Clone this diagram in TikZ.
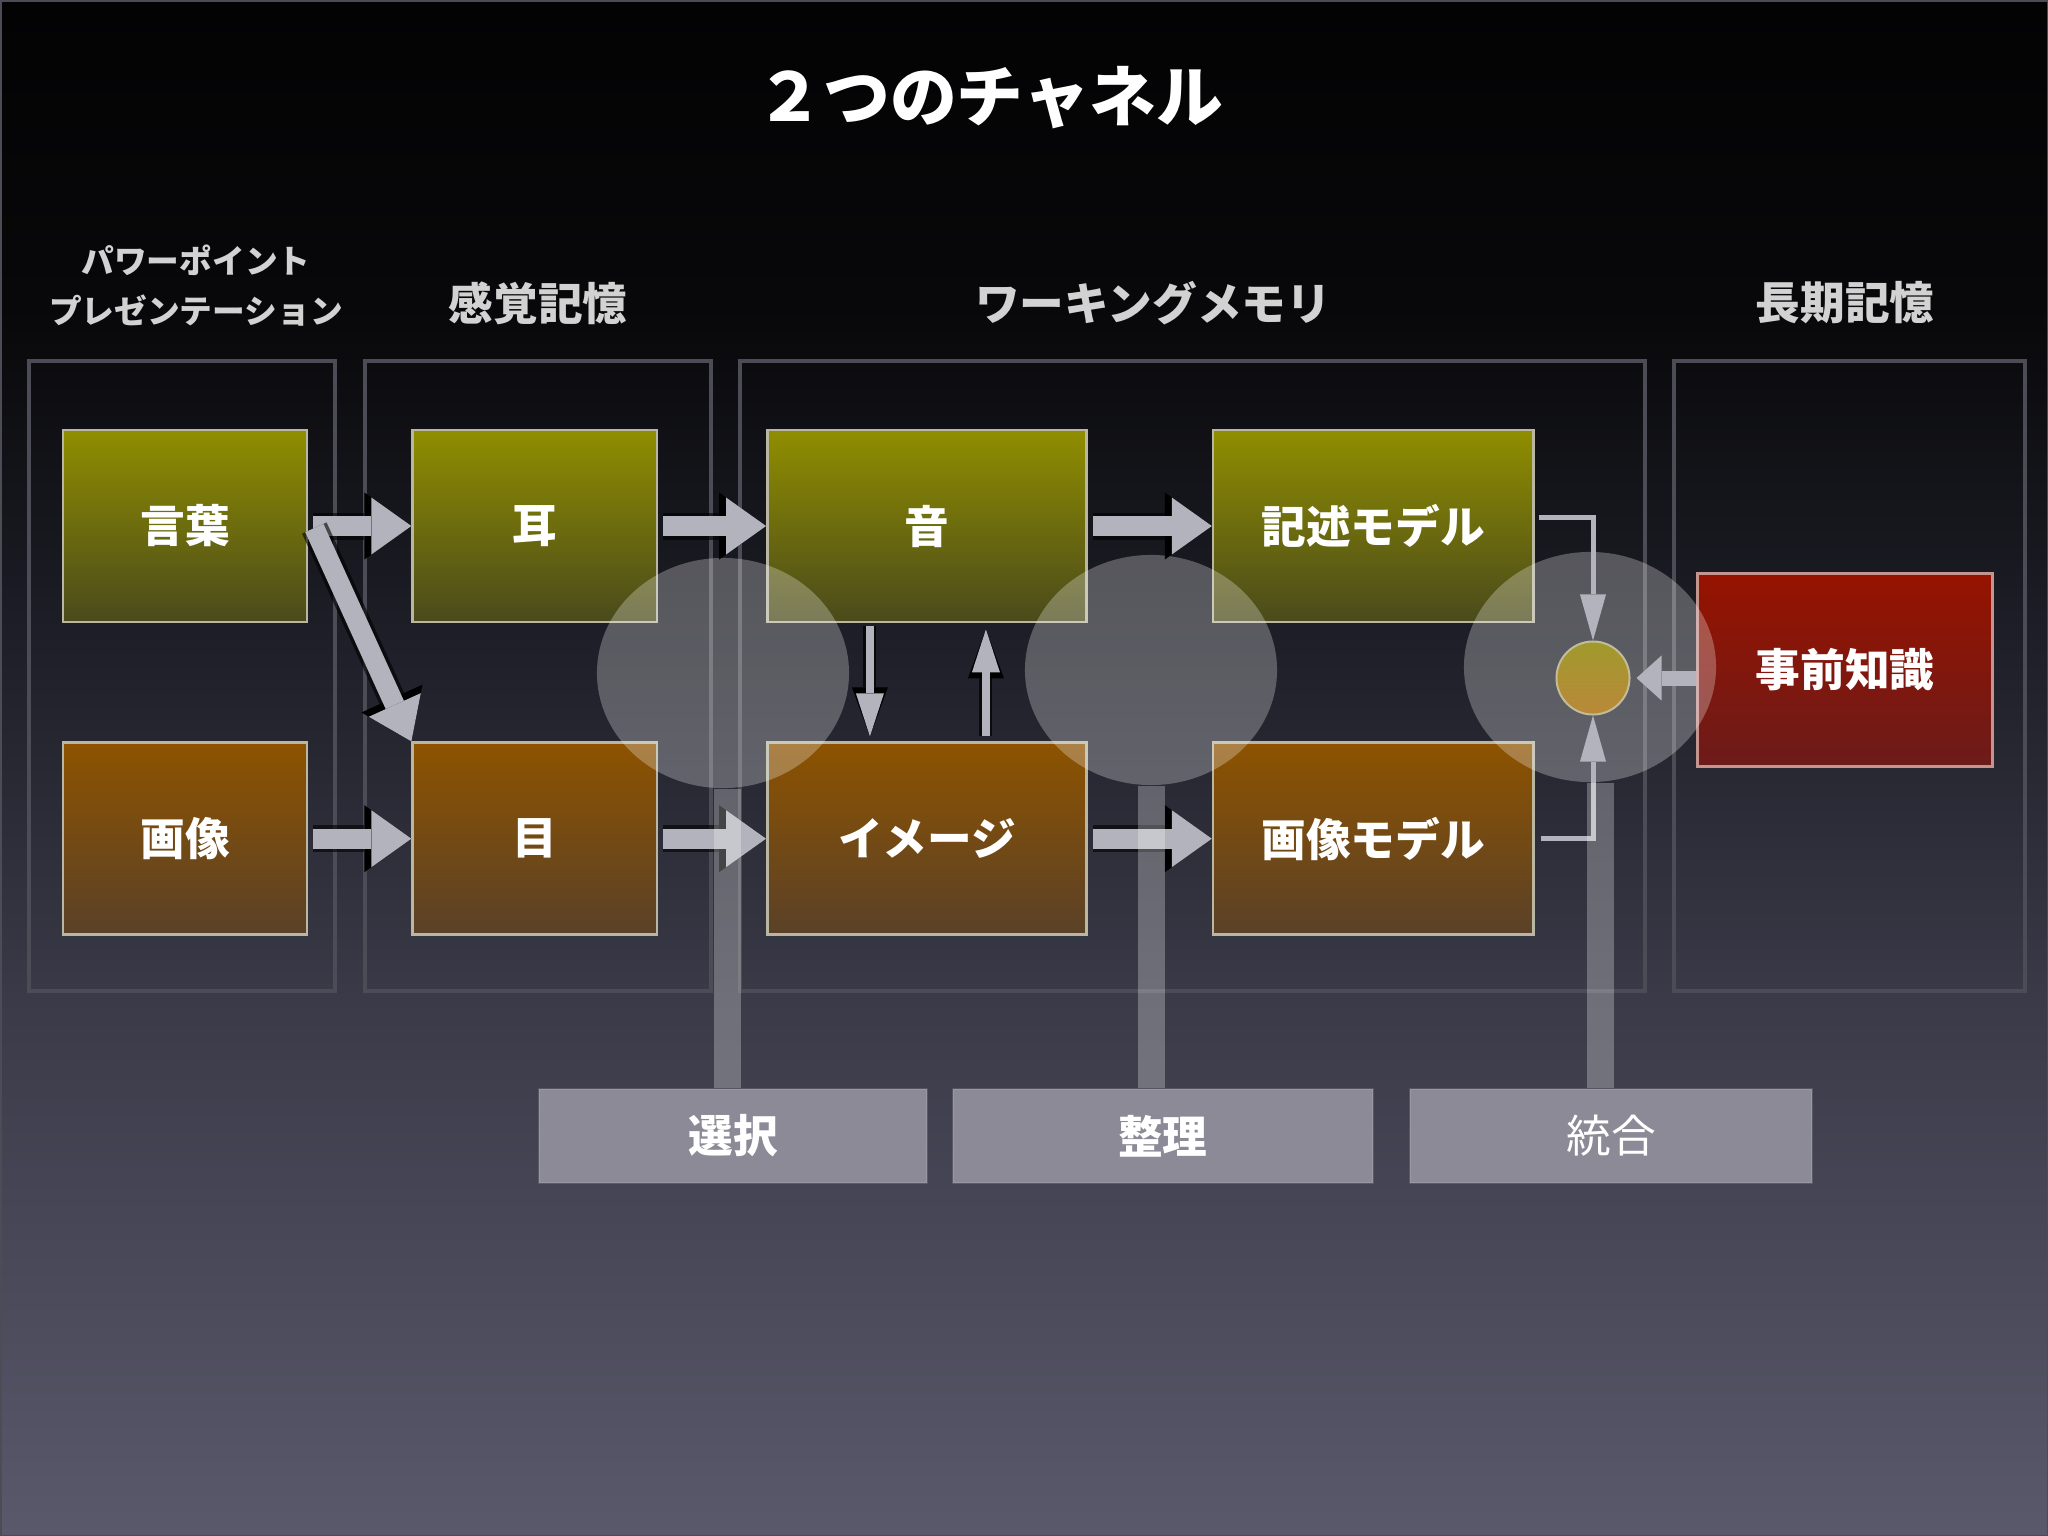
\documentclass[tikz,border=0pt]{standalone}
\usepackage{fontspec}
\setmainfont{Noto Sans CJK JP}
\usetikzlibrary{arrows.meta,positioning,calc,shapes.geometric}

\definecolor{bgA}{HTML}{5A586B}
\definecolor{bgB}{HTML}{3A3A48}
\definecolor{bgC}{HTML}{1F2029}
\definecolor{bgD}{HTML}{08080A}
\definecolor{bgE}{HTML}{030304}
\definecolor{wordtop}{HTML}{908E00}
\definecolor{wordbot}{HTML}{4A4A1C}
\definecolor{pictop}{HTML}{8D5300}
\definecolor{picbot}{HTML}{5A4128}
\definecolor{priortop}{HTML}{961300}
\definecolor{priorbot}{HTML}{6C1B1A}
\definecolor{edgec}{HTML}{B9B6A2}
\definecolor{prioredge}{HTML}{C4948F}
\definecolor{framec}{HTML}{4C4C56}
\definecolor{arrowc}{HTML}{B3B3BD}
\definecolor{procc}{HTML}{8B8A96}
\definecolor{headc}{HTML}{D2D2D2}
\definecolor{dottop}{HTML}{A09A2C}
\definecolor{dotbot}{HTML}{BA883A}
\definecolor{dotedge}{HTML}{C2BC98}

\pgfdeclareverticalshading{bgfade}{100bp}{color(0bp)=(bgA); color(25bp)=(bgA); color(42.5bp)=(bgB); color(53.5bp)=(bgC); color(65bp)=(bgD); color(75bp)=(bgE); color(100bp)=(bgE)}

\begin{document}
\begin{tikzpicture}[
  x=0.01cm, y=-0.01cm,
  colframe/.style={draw=framec, line width=0.04cm},
  colhead/.style={text=headc, font=\fontsize{12.7}{15}\selectfont\bfseries},
  box/.style={draw=edgec, line width=0.025cm, minimum width=2.44cm, minimum height=1.92cm, inner sep=0pt, text=white, font=\fontsize{12.7}{15}\selectfont\bfseries},
  verbal/.style={box, top color=wordtop, bottom color=wordbot},
  visual/.style={box, top color=pictop, bottom color=picbot},
  lens/.style={ellipse, minimum width=2.52cm, minimum height=2.3cm, inner sep=0pt, fill=white, fill opacity=0.27},
  proc/.style={minimum height=0.93cm, inner sep=0pt, fill=procc, draw=white, draw opacity=0.12, line width=0.02cm, text=white, font=\fontsize{12.7}{15}\selectfont\bfseries},
  bar/.style={draw=white, draw opacity=0.27, line width=0.27cm},
  fat/.style={draw=arrowc, line width=0.2cm, -{Triangle[width=0.57cm,length=0.4cm,line width=0pt]}, preaction={draw=black, draw opacity=0.6, line width=0.27cm, -{Triangle[width=0.67cm,length=0.47cm,line width=0pt]}}},
  fatsm/.style={draw=arrowc, line width=0.15cm, -{Triangle[width=0.45cm,length=0.25cm,line width=0pt]}},
  slim/.style={draw=arrowc, line width=0.08cm, -{Triangle[width=0.28cm,length=0.43cm,line width=0pt]}, preaction={draw=black, draw opacity=0.7, line width=0.13cm, -{Triangle[width=0.36cm,length=0.49cm,line width=0pt]}}},
  elbow/.style={draw=arrowc, line width=0.05cm, -{Triangle[width=0.26cm,length=0.46cm,line width=0pt]}},
]
\useasboundingbox (0,0) rectangle (2048,1536);
\shade[shading=bgfade] (0,0) rectangle (2048,1536);
\draw[framec, line width=0.03cm] (0,0) rectangle (2048,1536);

\node[text=white, font=\fontsize{19}{22}\selectfont\bfseries] (title) at (990,98) {２つのチャネル};

\foreach \a/\b in {29/335,365/711,740/1645,1674/2025}
  \draw[colframe] (\a,361) rectangle (\b,991);

\node[colhead, font=\fontsize{9.3}{14.2}\selectfont\bfseries, align=center] (ppt) at (196,286) {パワーポイント\\プレゼンテーション};
\node[colhead] (sensory) at (538,303) {感覚記憶};
\node[colhead] (working) at (1153,303) {ワーキングメモリ};
\node[colhead] (longterm) at (1845,303) {長期記憶};

\node[verbal] (kotoba) at (185,526) {言葉};
\node[visual, below=1.18cm of kotoba] (gazou) {画像};
\node[verbal, right=1.03cm of kotoba] (mimi) {耳};
\node[visual, below=1.18cm of mimi] (me) {目};
\node[verbal, right=1.08cm of mimi, minimum width=3.19cm] (oto) {音};
\node[visual, below=1.18cm of oto, minimum width=3.19cm] (image) {イメージ};
\node[verbal, right=1.24cm of oto, minimum width=3.2cm] (kijutsu) {記述モデル};
\node[visual, below=1.18cm of kijutsu, minimum width=3.2cm] (gmodel) {画像モデル};
\node[box, draw=prioredge, top color=priortop, bottom color=priorbot, minimum width=2.95cm, minimum height=1.93cm] (prior) at (1845,670) {事前知識};

\node[lens] (lensA) at (723,673) {};
\node[lens] (lensB) at (1151,670) {};
\node[lens] (lensC) at (1590,667) {};
\node[circle, minimum size=0.73cm, inner sep=0pt, top color=dottop, bottom color=dotbot, draw=dotedge, line width=0.02cm] (dot) at (1593,678) {};

\node[proc, minimum width=3.87cm] (sentaku) at (733,1136) {選択};
\node[proc, minimum width=4.2cm, right=0.24cm of sentaku] (seiri) {整理};
\node[proc, minimum width=4.02cm, right=0.35cm of seiri, font=\fontsize{12.7}{15}\selectfont] (tougou) {統合};

\foreach \a/\b in {kotoba/mimi,gazou/me,mimi/oto,me/image,oto/kijutsu,image/gmodel}
  \draw[fat] ($(\a.east)+(5,0)$) -- (\b.west);
\draw[fat] ($(kotoba.east)+(6,2)$) -- (me.north west);

\draw[slim] ($(oto.south)+(-57,3)$) -- ($(image.north)+(-57,-5)$);
\draw[slim] ($(image.north)+(59,-5)$) -- ($(oto.south)+(59,6)$);

\draw[elbow] ($(kijutsu.east)+(4,-9)$) -| (dot.north);
\draw[elbow] ($(gmodel.east)+(6,0)$) -| (dot.south);
\draw[fatsm] (prior.west |- dot.east) -- ($(dot.east)+(6,0)$);

\foreach \e/\p/\s in {lensA/sentaku/4,lensB/seiri/0,lensC/tougou/10}
  \draw[bar] ($(\e.south)+(\s,0)$) -- ($(\e.south |- \p.north)+(\s,0)$);
\end{tikzpicture}
\end{document}
